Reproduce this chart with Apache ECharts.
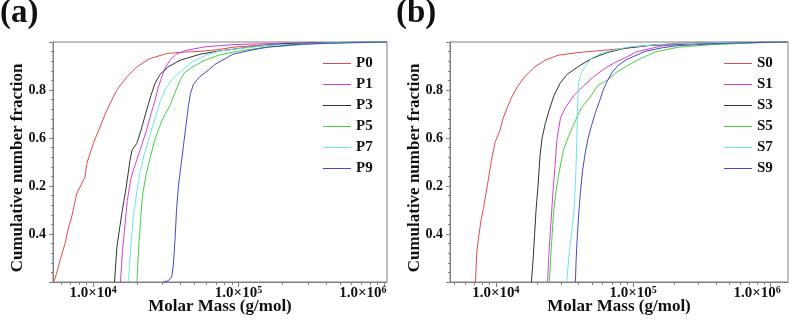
<!DOCTYPE html>
<html>
<head>
<meta charset="utf-8">
<script src="https://cdn.jsdelivr.net/npm/echarts@6/dist/echarts.min.js"></script>
<style>
  html, body { margin: 0; padding: 0; background: #fff; }
  #chart { width: 789px; height: 320px; }
</style>
</head>
<body>
<div id="chart"></div>
<script>
  // 累积数均分布，[摩尔质量 g/mol, 累积分数]
  const p0 = [[5340,0],[5470,0.014],[5765,0.061],[5920,0.09],[6410,0.16],[6750,0.224],[7125,0.271],[7715,0.368],[8800,0.4375],[9040,0.493],[10030,0.577],[11150,0.646],[12400,0.715],[14530,0.799],[17030,0.854],[19950,0.896],[24620,0.931],[32080,0.952],[41730,0.958],[54350,0.961],[70810,0.9675],[91660,0.978],[154500,0.989],[446700,0.997],[1050000,1]];
  const p1 = [[15430,0],[15930,0.132],[16440,0.215],[17190,0.34],[18230,0.432],[19110,0.474],[21020,0.549],[23300,0.632],[25210,0.707],[26660,0.757],[27950,0.807],[29780,0.857],[31720,0.899],[33810,0.924],[37170,0.949],[43550,0.965],[58850,0.98],[91660,0.989],[226000,0.996],[1050000,1]];
  const p3 = [[14030,0],[14600,0.149],[15800,0.29],[16840,0.39],[17940,0.507],[18510,0.549],[19950,0.577],[21350,0.632],[23110,0.707],[25010,0.778],[26660,0.828],[28850,0.865],[32740,0.896],[39610,0.924],[54350,0.949],[74620,0.963],[120000,0.979],[202400,0.9925],[425900,0.9975],[1050000,1]];
  const p5 = [[20040,0],[20530,0.132],[21180,0.257],[21870,0.361],[23110,0.445],[24620,0.515],[26660,0.595],[29780,0.674],[33810,0.736],[37170,0.799],[39610,0.84],[42200,0.87],[47880,0.895],[58850,0.924],[74620,0.947],[102400,0.963],[157000,0.979],[346700,0.993],[1050000,1]];
  const p7 = [[17520,0],[18080,0.132],[18960,0.278],[20040,0.382],[21180,0.465],[22390,0.528],[24240,0.599],[26660,0.682],[29090,0.757],[31720,0.807],[35440,0.849],[40870,0.882],[47880,0.916],[59790,0.945],[74620,0.963],[157000,0.986],[425900,0.997],[1050000,1]];
  const p9 = [[30490,0],[32740,0.005],[34720,0.02],[35620,0.07],[36590,0.174],[37470,0.299],[38670,0.403],[40230,0.486],[41850,0.57],[43550,0.653],[45310,0.736],[46770,0.786],[49030,0.824],[54350,0.857],[60740,0.878],[68910,0.907],[91660,0.949],[120000,0.965],[157000,0.978],[264800,0.991],[584600,0.9975],[1050000,1]];

  const s0 = [[7110,0],[7200,0.07],[7295,0.132],[7480,0.182],[7800,0.257],[8135,0.307],[8485,0.37],[8850,0.432],[9300,0.507],[9870,0.582],[10730,0.632],[11290,0.682],[12070,0.724],[12910,0.765],[14270,0.811],[16320,0.857],[19310,0.897],[22840,0.924],[28400,0.945],[39730,0.956],[57480,0.964],[83170,0.9725],[122300,0.984],[212800,0.9946],[509300,0.999],[1340000,1]];
  const s1 = [[23820,0],[24220,0.09],[24830,0.195],[25550,0.299],[26120,0.382],[27010,0.486],[27790,0.59],[29620,0.686],[32210,0.728],[37150,0.778],[43950,0.82],[51970,0.857],[61450,0.888],[72680,0.913],[87440,0.934],[105200,0.959],[162700,0.984],[283100,0.9946],[1340000,1]];
  const s3 = [[18150,0],[18670,0.09],[19150,0.195],[19630,0.299],[20300,0.403],[21000,0.528],[21710,0.599],[22840,0.657],[24420,0.715],[26570,0.778],[29380,0.828],[33040,0.865],[41100,0.903],[50250,0.932],[65740,0.957],[87440,0.974],[133000,0.986],[307800,0.9946],[1340000,1]];
  const s5 = [[24540,0],[25040,0.09],[25680,0.195],[26420,0.299],[27460,0.382],[28890,0.457],[31040,0.549],[33880,0.607],[37150,0.661],[41780,0.724],[48610,0.771],[55580,0.82],[64640,0.84],[76440,0.876],[90420,0.901],[106900,0.924],[144700,0.959],[212800,0.978],[376500,0.989],[871600,0.9975],[1340000,0.999]];
  const s7 = [[32870,0],[33590,0.07],[34740,0.153],[35930,0.224],[36970,0.286],[37790,0.382],[38420,0.486],[38870,0.59],[39260,0.695],[39600,0.77],[40070,0.832],[42130,0.874],[46210,0.909],[50250,0.934],[57480,0.951],[70290,0.965],[91960,0.979],[157300,0.99],[430600,0.9975],[1340000,1]];
  const s9 = [[37970,0],[38420,0.09],[39070,0.174],[40070,0.278],[41430,0.382],[42850,0.465],[44680,0.536],[46990,0.599],[49830,0.653],[52840,0.703],[56510,0.749],[60440,0.799],[64640,0.836],[70290,0.874],[77730,0.903],[90420,0.928],[122300,0.961],[162700,0.976],[212800,0.985],[492500,0.9954],[1340000,1]];

  const namesA = ["P0", "P1", "P3", "P5", "P7", "P9"];
  const namesB = ["S0", "S1", "S3", "S5", "S7", "S9"];
  const dataA = [p0, p1, p3, p5, p7, p9];
  const dataB = [s0, s1, s3, s5, s7, s9];
  const colors = ["#e04a4a", "#d040d4", "#333333", "#44d044", "#6ee6e6", "#4848c4"];

  const xMajorTicks = [1e4, 1e5, 1e6];
  const xMinorTicks = [5e3, 6e3, 7e3, 8e3, 9e3, 2e4, 3e4, 4e4, 5e4, 6e4, 7e4, 8e4, 9e4, 2e5, 3e5, 4e5, 5e5, 6e5, 7e5, 8e5, 9e5];
  // 原图纵轴刻度标签（自下而上），0 和 1 处不标
  const yTickLabels = ["", "0.4", "0.2", "0.6", "0.8", ""];

  const serif = "Liberation Serif";
  const gray = "#808080";

  function xAxesFor(gridIndex, min, max, lastPad) {
    return [
      {
        gridIndex,
        type: "log",
        logBase: 10,
        min,
        max,
        position: "bottom",
        name: "Molar Mass (g/mol)",
        nameLocation: "middle",
        nameGap: 16,
        nameMoveOverlap: false,
        nameTextStyle: { fontFamily: serif, fontWeight: "bold", fontSize: 17, color: "#111" },
        axisLine: { show: true, lineStyle: { color: gray } },
        axisTick: { show: true, inside: false, length: 5, customValues: xMajorTicks, lineStyle: { color: gray } },
        axisLabel: {
          customValues: xMajorTicks,
          margin: 3,
          formatter: function (v) {
            const e = Math.round(Math.log10(v));
            // 最右侧标签向左收进框内
            return "{b|1.0×10}{" + (e === 6 ? "t" : "s") + "|" + e + "}";
          },
          rich: {
            b: { fontFamily: serif, fontWeight: "bold", fontSize: 15, color: "#111", lineHeight: 16 },
            s: { fontFamily: serif, fontWeight: "bold", fontSize: 10, color: "#111", verticalAlign: "top", lineHeight: 16 },
            t: { fontFamily: serif, fontWeight: "bold", fontSize: 10, color: "#111", verticalAlign: "top", lineHeight: 16, padding: [0, lastPad, 0, 0] },
          },
        },
        splitLine: { show: false },
        minorTick: { show: false },
      },
      {
        gridIndex,
        type: "log",
        logBase: 10,
        min,
        max,
        position: "bottom",
        axisLine: { show: false },
        axisTick: { show: true, inside: false, length: 3, customValues: xMinorTicks, lineStyle: { color: gray } },
        axisLabel: { show: false },
        splitLine: { show: false },
      },
    ];
  }

  function yAxisFor(gridIndex) {
    return {
      gridIndex,
      type: "value",
      min: 0,
      max: 1,
      interval: 0.2,
      name: "Cumulative number fraction",
      nameLocation: "middle",
      nameGap: 27,
      nameMoveOverlap: false,
      nameTextStyle: { fontFamily: serif, fontWeight: "bold", fontSize: 17, color: "#111", padding: [0, 12, 0, 0] },
      axisLine: { show: true, lineStyle: { color: gray } },
      axisTick: { show: true, inside: false, length: 4, lineStyle: { color: gray } },
      minorTick: { show: true, splitNumber: 5, length: 2, lineStyle: { color: gray } },
      axisLabel: {
        margin: 7,
        fontFamily: serif,
        fontWeight: "bold",
        fontSize: 14,
        color: "#111",
        formatter: function (v) {
          return yTickLabels[Math.round(v / 0.2)];
        },
      },
      splitLine: { show: false },
    };
  }

  function seriesFor(names, data, xAxisIndex, yAxisIndex) {
    return names.map((n, i) => ({
      name: n,
      type: "line",
      xAxisIndex,
      yAxisIndex,
      data: data[i],
      symbol: "none",
      showSymbol: false,
      lineStyle: { width: 1, color: colors[i] },
      itemStyle: { color: colors[i] },
    }));
  }

  function legendFor(names, left) {
    return {
      data: names,
      orient: "vertical",
      left,
      top: 56,
      padding: 0,
      itemWidth: 28,
      itemHeight: 14,
      itemGap: 6,
      icon: "path://M0,6.5L28,6.5L28,7.5L0,7.5Z",
      textStyle: { fontFamily: serif, fontWeight: "bold", fontSize: 15, color: "#111", lineHeight: 14 },
    };
  }

  const chart = echarts.init(document.getElementById("chart"), null, { renderer: "canvas" });

  chart.setOption({
    animation: false,
    backgroundColor: "#fff",
    title: [
      { text: "(a)", left: 0, top: -3, padding: 0, textStyle: { fontFamily: serif, fontWeight: "bold", fontSize: 33, color: "#111" } },
      { text: "(b)", left: 396, top: -3, padding: 0, textStyle: { fontFamily: serif, fontWeight: "bold", fontSize: 33, color: "#111" } },
    ],
    grid: [
      { left: 53, top: 42, width: 334, height: 240, show: true, borderColor: gray, borderWidth: 1, outerBoundsMode: "none" },
      { left: 450, top: 42, width: 338, height: 240, show: true, borderColor: gray, borderWidth: 1, outerBoundsMode: "none" },
    ],
    legend: [legendFor(namesA, 323), legendFor(namesB, 724)],
    xAxis: [...xAxesFor(0, 5300, 1050000, 42), ...xAxesFor(1, 4640, 1340000, 27)],
    yAxis: [yAxisFor(0), yAxisFor(1)],
    series: [...seriesFor(namesA, dataA, 0, 0), ...seriesFor(namesB, dataB, 2, 1)],
  });
</script>
</body>
</html>
